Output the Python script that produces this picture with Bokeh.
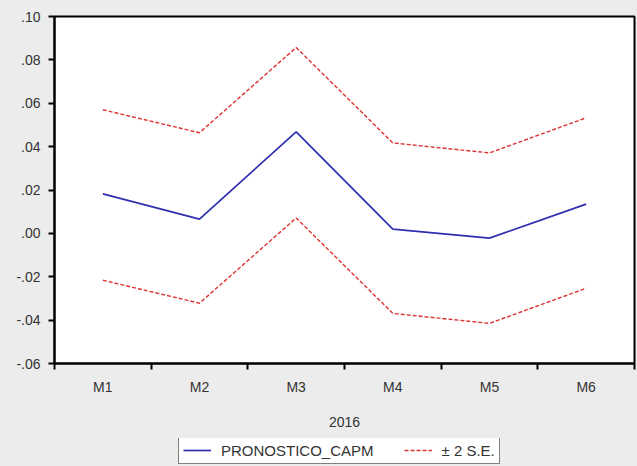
from bokeh.plotting import figure
from bokeh.layouts import column
from bokeh.models import FixedTicker, Legend, LegendItem, Range1d
from bokeh.embed import file_html
from bokeh.resources import INLINE

# Six-month forecast of the CAPM model with ±2 standard-error bands (2016)
months = ["M1", "M2", "M3", "M4", "M5", "M6"]
forecast = [0.0182, 0.0066, 0.0468, 0.0020, -0.0022, 0.0135]
upper_band = [0.0570, 0.0464, 0.0857, 0.0417, 0.0371, 0.0533]
lower_band = [-0.0216, -0.0322, 0.0071, -0.0369, -0.0415, -0.0253]

y_ticks = [-0.06, -0.04, -0.02, 0.0, 0.02, 0.04, 0.06, 0.08, 0.10]
y_tick_labels = ["-.06", "-.04", "-.02", ".00", ".02", ".04", ".06", ".08", ".10"]
year_label = "2016"
series_names = ["PRONOSTICO_CAPM", "± 2 S.E."]

x = [i + 1 for i in range(len(months))]
bounds = [i + 0.5 for i in range(len(months) + 1)]

FONT = "Liberation Sans"
TEXT = "#333333"
BG = "#ececec"
BLUE = "#2f2fb0"
RED = "#dd3333"

p = figure(width=637, height=438, frame_width=580, frame_height=347,
           output_backend="svg", toolbar_location=None,
           x_range=Range1d(0.5, len(months) + 0.5), y_range=Range1d(y_ticks[0], y_ticks[-1]),
           min_border_left=54, min_border_right=3, min_border_top=16, min_border_bottom=75)
p.background_fill_color = "white"
p.border_fill_color = BG
p.outline_line_color = "black"
p.outline_line_width = 2
p.xgrid.visible = False
p.ygrid.visible = False

p.line(x, forecast, line_color=BLUE, line_width=1.7)
p.line(x, upper_band, line_color=RED, line_width=1.4, line_dash="4 2")
p.line(x, lower_band, line_color=RED, line_width=1.4, line_dash="4 2")

# x axis: labels at month centres, tick marks at month boundaries
xa = p.xaxis[0]
xa.ticker = FixedTicker(ticks=x, minor_ticks=bounds)
xa.major_label_overrides = {xi: m for xi, m in zip(x, months)}
xa.major_tick_line_color = None
xa.major_tick_out = 6
xa.major_tick_in = 0
xa.minor_tick_out = 6
xa.minor_tick_in = 0
xa.minor_tick_line_color = "black"
xa.minor_tick_line_width = 2
xa.axis_line_color = "black"
xa.axis_line_width = 2
xa.major_label_text_font = FONT
xa.major_label_text_font_size = "14px"
xa.major_label_text_color = TEXT
xa.major_label_standoff = 9
xa.axis_label = year_label
xa.axis_label_text_font = FONT
xa.axis_label_text_font_size = "14px"
xa.axis_label_text_font_style = "normal"
xa.axis_label_text_color = TEXT
xa.axis_label_standoff = 19

ya = p.yaxis[0]
ya.ticker = FixedTicker(ticks=y_ticks, minor_ticks=[])
ya.major_label_overrides = {t: s for t, s in zip(y_ticks, y_tick_labels)}
ya.major_tick_out = 6
ya.major_tick_in = 0
ya.major_tick_line_width = 2
ya.axis_line_width = 2
ya.major_label_text_font = FONT
ya.major_label_text_font_size = "14px"
ya.major_label_text_color = TEXT
ya.major_label_standoff = 8

# strip underneath the chart that carries the legend box;
# its keys come from hidden copies of the series
leg = figure(width=637, height=28, output_backend="svg", toolbar_location=None,
             x_range=Range1d(0.5, len(months) + 0.5), y_range=Range1d(y_ticks[0], y_ticks[-1]),
             min_border_left=0, min_border_right=0, min_border_top=0, min_border_bottom=0)
leg.axis.visible = False
leg.xgrid.visible = False
leg.ygrid.visible = False
leg.outline_line_color = None
leg.background_fill_color = BG
leg.border_fill_color = BG
key_blue = leg.line(x, forecast, line_color=BLUE, line_width=1.7, visible=False)
key_red = leg.line(x, upper_band, line_color=RED, line_width=1.4, line_dash="4 2", visible=False)

legend = Legend(items=[LegendItem(label=series_names[0], renderers=[key_blue]),
                       LegendItem(label=series_names[1], renderers=[key_red])],
                orientation="horizontal", location=(124, 2),
                border_line_color="black", border_line_width=1.5,
                background_fill_color="white", background_fill_alpha=1,
                label_text_font=FONT, label_text_font_size="15px", label_text_color=TEXT,
                glyph_width=28, glyph_height=18, label_height=18, label_standoff=10,
                spacing=30, padding=4, margin=0)
leg.add_layout(legend, "center")

layout = column(p, leg, spacing=0, styles={"background-color": BG})
open("out.html", "w").write(file_html(layout, INLINE))
